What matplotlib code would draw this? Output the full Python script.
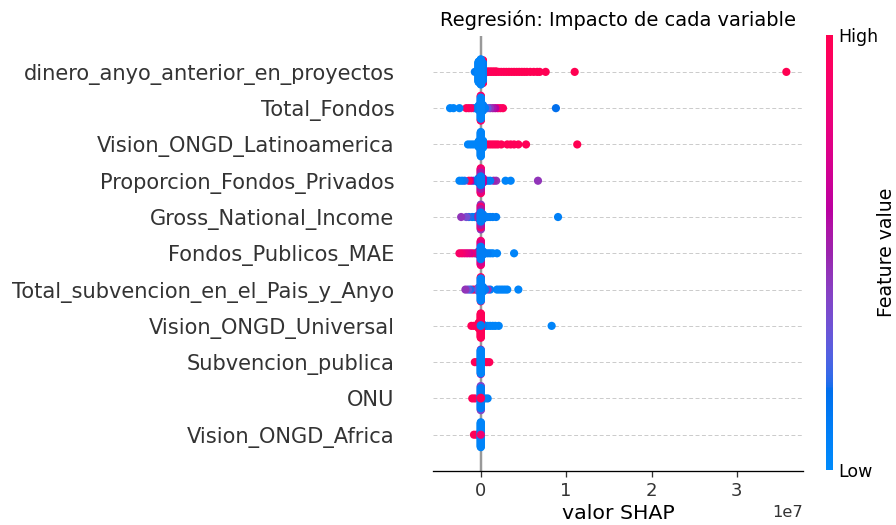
import numpy as np
import matplotlib
matplotlib.use('Agg')
import matplotlib.pyplot as plt
from matplotlib.colors import LinearSegmentedColormap
from matplotlib.cm import ScalarMappable

# feature names, most important first
features = ["dinero_anyo_anterior_en_proyectos", "Total_Fondos",
            "Vision_ONGD_Latinoamerica", "Proporcion_Fondos_Privados",
            "Gross_National_Income", "Fondos_Publicos_MAE",
            "Total_subvencion_en_el_Pais_y_Anyo", "Vision_ONGD_Universal",
            "Subvencion_publica", "ONU", "Vision_ONGD_Africa"]

# (shap value in millions, feature value 0..1, number of points)
pts_dinero = [(0.0, 0.05, 55), (-0.25, 0.05, 45), (0.25, 0.1, 38), (0.25, 0.95, 12), (-0.7, 0.1, 1),
              (0.6, 0.97, 3), (0.9, 0.97, 2), (1.2, 0.97, 2), (1.5, 0.98, 2), (1.8, 0.98, 2),
              (2.1, 0.98, 1), (2.4, 0.98, 1), (2.7, 0.98, 1), (3.0, 0.99, 1), (3.3, 0.99, 1),
              (3.6, 0.99, 1), (3.9, 0.99, 1), (4.2, 0.99, 1), (4.5, 0.99, 1), (4.8, 0.99, 1),
              (5.1, 0.99, 1), (5.4, 0.99, 1), (5.8, 0.99, 1), (6.2, 0.99, 1), (6.6, 0.99, 1),
              (6.9, 0.99, 1), (7.6, 0.99, 1), (11.0, 1.0, 1), (35.8, 1.0, 1)]
pts_total_fondos = [(0.0, 0.05, 35), (0.0, 0.9, 6), (0.25, 0.1, 10), (-0.25, 0.1, 8),
                    (-3.6, 0.05, 1), (-3.2, 0.05, 1), (-2.5, 0.05, 1),
                    (-1.7, 0.95, 1), (-1.4, 0.9, 1), (-1.1, 0.9, 1), (-0.8, 0.1, 1), (-0.5, 0.1, 1),
                    (0.5, 0.1, 1), (0.8, 0.3, 1), (1.1, 0.45, 1), (1.4, 0.55, 1), (1.7, 0.6, 1),
                    (2.0, 0.9, 1), (2.3, 0.95, 1), (2.6, 0.95, 1), (8.8, 0.18, 1)]
pts_latam = [(0.0, 0.05, 40), (0.25, 0.05, 12), (-0.25, 0.05, 10),
             (-1.5, 0.05, 1), (-1.2, 0.05, 1), (-0.9, 0.05, 1), (-0.6, 0.05, 1),
             (0.5, 0.97, 1), (0.8, 0.97, 1), (1.1, 0.97, 1), (1.4, 0.97, 1), (1.7, 0.97, 1),
             (2.0, 0.97, 1), (2.4, 0.97, 1), (3.1, 0.97, 1), (3.5, 0.97, 1), (3.9, 0.97, 1),
             (4.4, 0.97, 1), (5.3, 0.98, 1), (11.3, 1.0, 1)]
pts_privados = [(0.0, 0.1, 15), (0.0, 0.55, 12), (0.0, 0.8, 10), (0.0, 0.95, 4), (0.25, 0.6, 8),
                (-0.25, 0.15, 8), (-2.5, 0.05, 1), (-2.2, 0.08, 1), (-1.9, 0.2, 1), (-1.4, 0.97, 1),
                (-1.1, 0.6, 1), (-0.8, 0.1, 1), (-0.5, 0.1, 1), (0.5, 0.1, 1), (0.8, 0.1, 1),
                (1.1, 0.1, 1), (1.5, 0.5, 1), (1.8, 0.45, 1), (2.9, 0.05, 1), (3.5, 0.05, 1),
                (6.7, 0.45, 1)]
pts_gni = [(0.0, 0.1, 15), (0.0, 0.55, 10), (0.0, 0.85, 8), (0.0, 0.45, 6), (0.25, 0.1, 8),
           (-0.25, 0.5, 6), (-2.3, 0.45, 1), (-1.7, 0.35, 1), (-1.4, 0.2, 1), (-1.0, 0.1, 1),
           (-0.7, 0.1, 1), (-0.4, 0.3, 1), (0.5, 0.1, 1), (0.8, 0.1, 1), (1.1, 0.1, 1),
           (1.4, 0.1, 1), (1.8, 0.1, 1), (9.05, 0.08, 1)]
pts_mae = [(0.0, 0.1, 20), (0.0, 0.7, 10), (0.0, 0.85, 8), (-0.25, 0.75, 6), (0.25, 0.1, 6),
           (-2.5, 0.9, 1), (-2.2, 0.85, 1), (-1.9, 0.8, 1), (-1.6, 0.75, 1), (-1.3, 0.7, 1),
           (-1.0, 0.9, 1), (-0.7, 0.15, 1), (-0.4, 0.8, 1), (0.5, 0.1, 1), (0.8, 0.1, 1),
           (1.1, 0.05, 1), (1.4, 0.05, 1), (1.9, 0.05, 1), (3.9, 0.05, 1)]
pts_subv_pais = [(0.0, 0.05, 35), (0.0, 0.95, 3), (0.25, 0.1, 8), (-0.25, 0.3, 6),
                 (-1.8, 0.45, 1), (-1.5, 0.3, 1), (-1.2, 0.2, 1), (-0.9, 0.97, 1), (-0.6, 0.3, 1),
                 (0.5, 0.1, 1), (0.8, 0.45, 1), (1.1, 0.1, 1), (1.9, 0.05, 1), (2.2, 0.05, 1),
                 (2.5, 0.05, 1), (2.8, 0.05, 1), (3.1, 0.05, 1), (4.4, 0.05, 1)]
pts_universal = [(0.0, 0.1, 2), (0.0, 0.97, 40), (0.25, 0.1, 4), (-0.25, 0.97, 10),
                 (-1.1, 0.97, 1), (-0.8, 0.97, 1), (0.5, 0.05, 1), (0.8, 0.05, 1),
                 (1.1, 0.05, 1), (1.4, 0.05, 1), (1.7, 0.05, 1), (2.1, 0.05, 1), (8.3, 0.05, 1)]
pts_subv_publica = [(0.0, 0.05, 40), (0.0, 0.6, 2), (-0.7, 0.97, 1), (-0.4, 0.95, 1),
                    (0.4, 0.97, 1), (0.7, 0.97, 1), (1.0, 0.97, 1)]
pts_onu = [(0.0, 0.95, 2), (0.0, 0.1, 30), (0.0, 0.4, 6), (-1.0, 0.97, 1), (-0.7, 0.95, 1),
           (0.5, 0.05, 1), (0.8, 0.08, 1)]
pts_africa = [(0.0, 0.85, 1), (0.0, 0.05, 40), (-0.8, 0.97, 1), (-0.5, 0.97, 1)]

rows = [pts_dinero, pts_total_fondos, pts_latam, pts_privados, pts_gni, pts_mae,
        pts_subv_pais, pts_universal, pts_subv_publica, pts_onu, pts_africa]


def lch_to_rgb(l, c, h):
    # Lch -> Lab -> XYZ (D65) -> sRGB
    a, b = c * np.cos(h), c * np.sin(h)
    fy = (l + 16.) / 116.
    fx = fy + a / 500.
    fz = fy - b / 200.

    def finv(t):
        return t ** 3 if t > 6. / 29 else 3 * (6. / 29) ** 2 * (t - 4. / 29)
    x, y, z = 0.95047 * finv(fx), finv(fy), 1.08883 * finv(fz)
    lin = [3.24048 * x - 1.53715 * y - 0.49854 * z,
           -0.96925 * x + 1.87599 * y + 0.04156 * z,
           0.05565 * x - 0.20404 * y + 1.05731 * z]
    out = []
    for v in lin:
        v = 1.055 * v ** (1 / 2.4) - 0.055 if v > 0.0031308 else 12.92 * v
        out.append(min(max(v, 0.), 1.))
    return out


def red_blue():
    blue_lch = [54., 70., 4.6588]
    red_lch = [54., 90., 0.35470565 + 2 * np.pi]
    l_mid = 40.
    nsteps = 100
    l_vals = list(np.linspace(blue_lch[0], l_mid, nsteps // 2)) + list(np.linspace(l_mid, red_lch[0], nsteps // 2))
    c_vals = np.linspace(blue_lch[1], red_lch[1], nsteps)
    h_vals = np.linspace(blue_lch[2], red_lch[2], nsteps)
    cols = [lch_to_rgb(l, c, h) for l, c, h in zip(l_vals, c_vals, h_vals)]
    return LinearSegmentedColormap.from_list('red_blue', cols, N=256)


def swarm(vals, width=0.25, row_height=0.4):
    # stack points that fall in the same bin, alternating up / down
    quant = np.round(vals / width)
    order = np.argsort(quant, kind='stable')
    ys = np.zeros(len(vals))
    layer = 0
    last = None
    for i in order:
        if quant[i] != last:
            layer = 0
        ys[i] = np.ceil(layer / 2) * ((layer % 2) * 2 - 1)
        layer += 1
        last = quant[i]
    ys *= 0.9 * (row_height / np.max(ys + 1))
    return ys


cmap = red_blue()
n = len(features)

fig = plt.figure(figsize=(896 / 118, 525 / 118), dpi=118)
ax = fig.add_axes([433 / 896, 54 / 525, 370 / 896, 435.4 / 525])

ax.axvline(x=0, color="#999999", zorder=-1)
for i, pts in enumerate(rows):
    pos = n - 1 - i
    ax.axhline(y=pos, color="#cccccc", lw=0.6, linestyle=(0, (4, 2.5)), zorder=-1)
    counts = [p[2] for p in pts]
    vals = np.repeat([p[0] for p in pts], counts)
    cvals = np.repeat([p[1] for p in pts], counts)
    ys = swarm(vals)
    ax.scatter(vals[::-1] * 1e6, pos + ys[::-1], c=cvals[::-1], cmap=cmap, vmin=0, vmax=1,
               s=25, linewidth=0, alpha=1, zorder=3, rasterized=True)

ax.set_xlim(-5.6e6, 3.775e7)
ax.set_ylim(-1, n)
ax.set_yticks(range(n))
ax.set_yticklabels(features[::-1], fontsize=12.8)
ax.xaxis.set_ticks_position('bottom')
ax.yaxis.set_ticks_position('none')
for s in ['right', 'top', 'left']:
    ax.spines[s].set_visible(False)
ax.tick_params(color='#333333', labelcolor='#333333')
ax.tick_params('y', length=20, width=0.5, which='major')
ax.tick_params('x', labelsize=11)
ax.set_xlabel('valor SHAP', fontsize=12.5, labelpad=2)
ax.set_title('Regresión: Impacto de cada variable', fontsize=11.8)

# colour bar
cax = fig.add_axes([826 / 896, 55 / 525, 7 / 896, 435 / 525])
m = ScalarMappable(cmap=cmap)
m.set_array([0, 1])
cb = fig.colorbar(m, cax=cax, ticks=[0, 1])
cb.set_ticklabels(['Low', 'High'])
cb.set_label('Feature value', size=11.5, labelpad=-1)
cb.ax.tick_params(labelsize=10.6, length=0)
cb.outline.set_visible(False)

fig.savefig('out.png', dpi=118)
